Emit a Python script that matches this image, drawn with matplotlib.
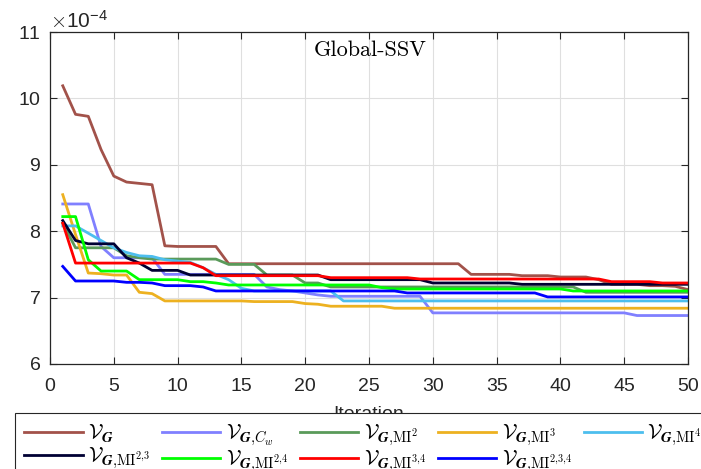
import matplotlib
matplotlib.use("Agg")
import matplotlib.pyplot as plt
from matplotlib.ticker import ScalarFormatter, MultipleLocator

plt.rcParams['mathtext.fontset'] = 'cm'
plt.rcParams['font.family'] = ['Liberation Sans', 'DejaVu Sans']

iterations = list(range(1, 51))

# values in units of 1e-4
v_G = [10.19, 9.76, 9.73, 9.23, 8.83, 8.74, 8.72, 8.70, 7.78, 7.77,
       7.77, 7.77, 7.77, 7.51, 7.51, 7.51, 7.51, 7.51, 7.51, 7.51,
       7.51, 7.51, 7.51, 7.51, 7.51, 7.51, 7.51, 7.51, 7.51, 7.51,
       7.51, 7.51, 7.35, 7.35, 7.35, 7.35, 7.33, 7.33, 7.33, 7.31,
       7.31, 7.31, 7.27, 7.20, 7.20, 7.20, 7.18, 7.18, 7.17, 7.12]
v_G_Cw = [8.41, 8.41, 8.41, 7.77, 7.60, 7.60, 7.60, 7.60, 7.35, 7.35,
          7.35, 7.35, 7.35, 7.35, 7.35, 7.35, 7.16, 7.12, 7.10, 7.07,
          7.04, 7.02, 7.02, 7.02, 7.02, 7.02, 7.02, 7.02, 7.02, 6.77,
          6.77, 6.77, 6.77, 6.77, 6.77, 6.77, 6.77, 6.77, 6.77, 6.77,
          6.77, 6.77, 6.77, 6.77, 6.77, 6.73, 6.73, 6.73, 6.73, 6.73]
v_G_MI2 = [8.12, 7.75, 7.75, 7.75, 7.75, 7.63, 7.60, 7.58, 7.58, 7.58,
           7.58, 7.58, 7.58, 7.50, 7.50, 7.50, 7.34, 7.34, 7.34, 7.22,
           7.22, 7.16, 7.16, 7.16, 7.16, 7.16, 7.16, 7.16, 7.16, 7.16,
           7.16, 7.16, 7.16, 7.16, 7.16, 7.16, 7.16, 7.16, 7.16, 7.16,
           7.16, 7.08, 7.08, 7.08, 7.08, 7.08, 7.08, 7.08, 7.08, 7.08]
v_G_MI3 = [8.55, 7.95, 7.37, 7.36, 7.34, 7.34, 7.08, 7.06, 6.95, 6.95,
           6.95, 6.95, 6.95, 6.95, 6.95, 6.94, 6.94, 6.94, 6.94, 6.91,
           6.90, 6.87, 6.87, 6.87, 6.87, 6.87, 6.84, 6.84, 6.84, 6.84,
           6.84, 6.84, 6.84, 6.84, 6.84, 6.84, 6.84, 6.84, 6.84, 6.84,
           6.84, 6.84, 6.84, 6.84, 6.84, 6.84, 6.84, 6.84, 6.84, 6.84]
v_G_MI4 = [8.08, 8.08, 7.97, 7.86, 7.75, 7.68, 7.63, 7.62, 7.57, 7.55,
           7.53, 7.45, 7.35, 7.27, 7.14, 7.10, 7.10, 7.10, 7.10, 7.10,
           7.10, 7.10, 6.95, 6.95, 6.95, 6.95, 6.95, 6.95, 6.95, 6.95,
           6.95, 6.95, 6.95, 6.95, 6.95, 6.95, 6.95, 6.95, 6.95, 6.95,
           6.95, 6.95, 6.95, 6.95, 6.95, 6.95, 6.95, 6.95, 6.95, 6.95]
v_G_MI23 = [8.16, 7.86, 7.81, 7.81, 7.81, 7.60, 7.52, 7.41, 7.41, 7.41,
            7.34, 7.34, 7.34, 7.34, 7.34, 7.34, 7.34, 7.34, 7.34, 7.34,
            7.34, 7.27, 7.27, 7.27, 7.27, 7.27, 7.27, 7.27, 7.27, 7.22,
            7.22, 7.22, 7.22, 7.22, 7.22, 7.22, 7.20, 7.20, 7.20, 7.20,
            7.20, 7.20, 7.20, 7.20, 7.20, 7.20, 7.20, 7.20, 7.20, 7.20]
v_G_MI24 = [8.22, 8.22, 7.57, 7.40, 7.40, 7.40, 7.27, 7.27, 7.27, 7.27,
            7.24, 7.24, 7.22, 7.19, 7.19, 7.19, 7.19, 7.19, 7.19, 7.19,
            7.19, 7.19, 7.19, 7.19, 7.19, 7.15, 7.13, 7.13, 7.13, 7.13,
            7.13, 7.13, 7.13, 7.13, 7.13, 7.13, 7.13, 7.13, 7.13, 7.13,
            7.10, 7.10, 7.10, 7.10, 7.10, 7.10, 7.10, 7.10, 7.10, 7.10]
v_G_MI34 = [8.12, 7.52, 7.52, 7.52, 7.52, 7.52, 7.52, 7.52, 7.52, 7.52,
            7.52, 7.45, 7.33, 7.33, 7.33, 7.33, 7.33, 7.33, 7.33, 7.33,
            7.33, 7.30, 7.30, 7.30, 7.30, 7.30, 7.30, 7.30, 7.28, 7.28,
            7.28, 7.28, 7.28, 7.28, 7.28, 7.28, 7.28, 7.28, 7.28, 7.28,
            7.28, 7.28, 7.28, 7.24, 7.24, 7.24, 7.24, 7.22, 7.22, 7.22]
v_G_MI234 = [7.47, 7.25, 7.25, 7.25, 7.25, 7.23, 7.23, 7.22, 7.18, 7.18,
             7.18, 7.16, 7.10, 7.10, 7.10, 7.10, 7.10, 7.10, 7.10, 7.10,
             7.10, 7.10, 7.10, 7.10, 7.10, 7.10, 7.10, 7.07, 7.07, 7.07,
             7.07, 7.07, 7.07, 7.07, 7.07, 7.07, 7.07, 7.07, 7.01, 7.01,
             7.01, 7.01, 7.01, 7.01, 7.01, 7.01, 7.01, 7.01, 7.01, 7.01]

series = [v_G, v_G_Cw, v_G_MI2, v_G_MI3, v_G_MI4,
          v_G_MI23, v_G_MI24, v_G_MI34, v_G_MI234]
labels = [r'$\mathcal{V}_{\boldsymbol{G}}$',
          r'$\mathcal{V}_{\boldsymbol{G}{,}C_w}$',
          r'$\mathcal{V}_{\boldsymbol{G}{,}\mathrm{MI}^2}$',
          r'$\mathcal{V}_{\boldsymbol{G}{,}\mathrm{MI}^3}$',
          r'$\mathcal{V}_{\boldsymbol{G}{,}\mathrm{MI}^4}$',
          r'$\mathcal{V}_{\boldsymbol{G}{,}\mathrm{MI}^{2{,}3}}$',
          r'$\mathcal{V}_{\boldsymbol{G}{,}\mathrm{MI}^{2{,}4}}$',
          r'$\mathcal{V}_{\boldsymbol{G}{,}\mathrm{MI}^{3{,}4}}$',
          r'$\mathcal{V}_{\boldsymbol{G}{,}\mathrm{MI}^{2{,}3{,}4}}$']
colors = ['#A2524A', '#8080FF', '#5A9A5A', '#EDB120', '#4DBEEE',
          '#000033', '#00FF00', '#FF0000', '#0000FF']

scale = 1e-4
fig = plt.figure(figsize=(7.01, 4.69), dpi=100)
ax = fig.add_axes([50 / 701, 105 / 469, 638 / 701, 332 / 469])

handles = []
for ys, lab, c in zip(series, labels, colors):
    h, = ax.plot(iterations, [v * scale for v in ys], color=c, lw=2.0, label=lab)
    handles.append(h)

ax.set_xlim(0, 50)
ax.set_ylim(6e-4, 11e-4)
ax.xaxis.set_major_locator(MultipleLocator(5))
ax.yaxis.set_major_locator(MultipleLocator(1e-4))
fmt = ScalarFormatter(useMathText=True)
fmt.set_powerlimits((-4, -4))
ax.yaxis.set_major_formatter(fmt)
ax.yaxis.get_offset_text().set_fontsize(15)
ax.yaxis.get_offset_text().set_color('#262626')

ax.grid(True, color='#DFDFDF', lw=0.8)
ax.set_axisbelow(True)
ax.tick_params(direction='in', top=True, right=True, length=5, width=0.8,
               colors='#262626', labelsize=14)
ax.tick_params(axis='x', pad=10)
ax.tick_params(axis='y', pad=6.5)
for s in ax.spines.values():
    s.set_color('#262626')
    s.set_linewidth(0.9)

ax.text(25.1, 10.72e-4, 'Global-SSV', family='cmr10', fontsize=16,
        ha='center', va='center', color='black')

ax.set_xlabel('Iteration', fontsize=14, color='#262626', labelpad=8)

order = [0, 5, 1, 6, 2, 7, 3, 8, 4]
leg = ax.legend([handles[i] for i in order], [labels[i] for i in order],
                ncol=5, loc='upper left', bbox_to_anchor=(15 / 701, 1 - 413 / 469),
                bbox_transform=fig.transFigure, fontsize=15, frameon=True,
                fancybox=False, framealpha=1, edgecolor='#262626',
                handlelength=2.8, handletextpad=0.25, columnspacing=0.58,
                borderaxespad=0, borderpad=0.45, labelspacing=0.0)
leg.get_frame().set_linewidth(0.8)

fig.savefig('out.png', dpi=100)
